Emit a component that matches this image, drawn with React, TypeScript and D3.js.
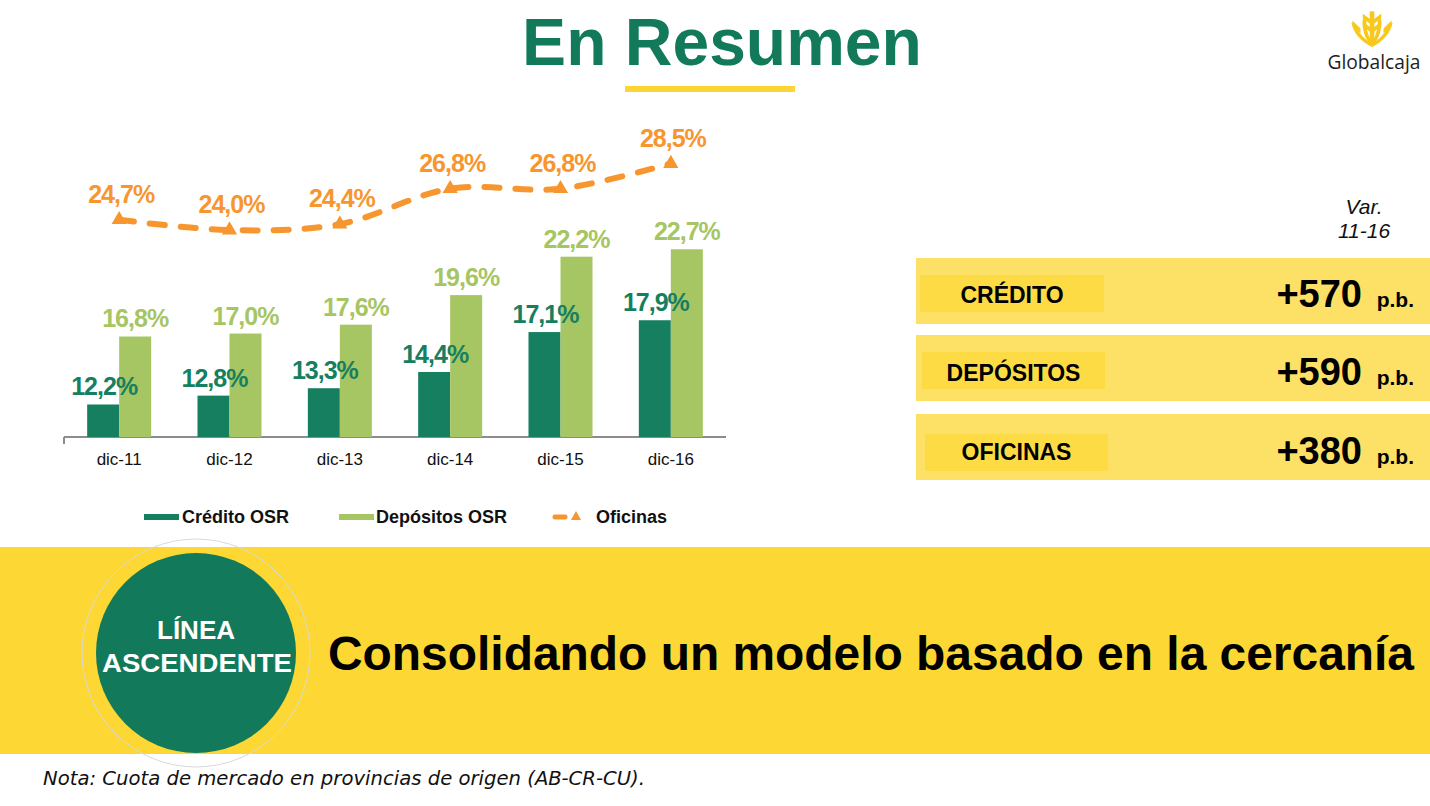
import React from "react";
import * as d3 from "d3";

const categories = ["dic-11", "dic-12", "dic-13", "dic-14", "dic-15", "dic-16"];
const creditoOSR = [12.2, 12.8, 13.3, 14.4, 17.1, 17.9];
const depositosOSR = [16.8, 17.0, 17.6, 19.6, 22.2, 22.7];
const oficinas = [24.7, 24.0, 24.4, 26.8, 26.8, 28.5];
const seriesNames = ["Crédito OSR", "Depósitos OSR", "Oficinas"];
const summaryLabels = ["CRÉDITO", "DEPÓSITOS", "OFICINAS"];
const summaryValues = ["+570", "+590", "+380"];

const GREEN = "#157F60";
const DARK_GREEN = "#127A5B";
const LIGHT_GREEN = "#A6C563";
const ORANGE = "#F7962F";
const FONT = "'Liberation Sans', Arial, Helvetica, sans-serif";

const fmt = (v: number) => v.toFixed(1).replace(".", ",") + "%";

export default function App() {
  const x = d3.scaleBand<string>().domain(categories).range([64, 726]).padding(0);
  const sub = d3
    .scaleBand<string>()
    .domain(["c", "d"])
    .range([0, x.bandwidth()])
    .paddingInner(0)
    .paddingOuter(0.724);
  const y = d3.scaleLinear().domain([10, 30]).range([437, 141.4]);
  const cx = (c: string) => (x(c) as number) + x.bandwidth() / 2;

  const line = d3
    .line<number>()
    .x((_, i) => cx(categories[i]))
    .y((d) => y(d))
    .curve(d3.curveCatmullRom.alpha(0.5));

  const tri = d3.symbol().type(d3.symbolTriangle).size(100)();

  const rows = [
    { top: 258, h: 66, inner: [920, 275, 184, 37], base: 304 },
    { top: 335, h: 66, inner: [922, 352, 183, 37], base: 382 },
    { top: 414, h: 66, inner: [925, 434, 183, 37], base: 461 },
  ];

  const labelProps = {
    fontSize: 25,
    fontWeight: "bold" as const,
    textAnchor: "middle" as const,
    letterSpacing: -1,
  };

  return (
    <svg
      width={1430}
      height={806}
      style={{ position: "fixed", left: 0, top: 0, background: "#fff" }}
      fontFamily={FONT}
    >
      {/* Title */}
      <text x={722} y={65} textAnchor="middle" fontSize={66} fontWeight="bold" fill={DARK_GREEN}>
        En Resumen
      </text>
      <rect x={625} y={86} width={170} height={6} fill="#FCD535" />

      {/* Logo */}
      <g fill="#F8C81C" stroke="none" transform="translate(1372,47) scale(1.15) translate(-1372,-47)">
        <path d="M1372,47 C1362,42 1356,35 1354,26 L1358,27 C1360,35 1365,40 1372,44 Z" />
        <path d="M1372,47 C1382,42 1388,35 1390,26 L1386,27 C1384,35 1379,40 1372,44 Z" />
        <path d="M1372,47 C1366,40 1363,32 1364,22 L1367,24 C1367,32 1369,38 1372,43 Z" />
        <path d="M1372,47 C1378,40 1381,32 1380,22 L1377,24 C1377,32 1375,38 1372,43 Z" />
        <path d="M1370,45 L1370,16 L1374,16 L1374,45 Z" />
        <path d="M1364,18 L1372,24 L1380,18 L1380,22 L1372,28 L1364,22 Z" />
        <path d="M1364,25 L1372,31 L1380,25 L1380,29 L1372,35 L1364,29 Z" />
        <path d="M1355,24 L1362,31 L1362,35 L1355,28 Z" />
        <path d="M1389,24 L1382,31 L1382,35 L1389,28 Z" />
      </g>
      <text x={1374} y={69} textAnchor="middle" fontSize={20} fill="#1e1e1e" fontFamily="'Open Sans', sans-serif" textLength={93} lengthAdjust="spacingAndGlyphs">
        Globalcaja
      </text>

      {/* Axis */}
      <line x1={64} x2={726} y1={437} y2={437} stroke="#8c8c8c" strokeWidth={2} />
      <line x1={64} x2={64} y1={437} y2={444} stroke="#8c8c8c" strokeWidth={2} />
      {categories.map((c) => (
        <text key={c} x={cx(c)} y={465} textAnchor="middle" fontSize={17} fill="#111">
          {c}
        </text>
      ))}

      {/* Bars */}
      {categories.map((c, i) => {
        const x0 = x(c) as number;
        const xc = x0 + (sub("c") as number);
        const xd = x0 + (sub("d") as number);
        const bw = sub.bandwidth();
        return (
          <g key={c}>
            <rect x={xc} y={y(creditoOSR[i])} width={bw} height={437 - y(creditoOSR[i])} fill={GREEN} />
            <rect x={xd} y={y(depositosOSR[i])} width={bw} height={437 - y(depositosOSR[i])} fill={LIGHT_GREEN} />
            <text x={xc + bw / 2 + 1} y={y(creditoOSR[i]) - 9} fill={GREEN} {...labelProps}>
              {fmt(creditoOSR[i])}
            </text>
            <text x={xd + bw / 2} y={y(depositosOSR[i]) - 9} fill={LIGHT_GREEN} {...labelProps}>
              {fmt(depositosOSR[i])}
            </text>
          </g>
        );
      })}

      {/* Oficinas line */}
      <path
        d={line(oficinas) || ""}
        fill="none"
        stroke={ORANGE}
        strokeWidth={6}
        strokeDasharray="15 16"
        strokeLinecap="round"
      />
      {oficinas.map((v, i) => (
        <g key={i}>
          <path d={tri || ""} transform={`translate(${cx(categories[i])},${y(v)})`} fill={ORANGE} />
          <text x={cx(categories[i]) + 2} y={y(v) - 17} fill={ORANGE} {...labelProps}>
            {fmt(v)}
          </text>
        </g>
      ))}

      {/* Legend */}
      <rect x={144} y={514} width={35} height={6} fill={GREEN} />
      <text x={182} y={523} fontSize={18} fontWeight="bold" fill="#111">
        {seriesNames[0]}
      </text>
      <rect x={339} y={514} width={35} height={6} fill={LIGHT_GREEN} />
      <text x={376} y={523} fontSize={18} fontWeight="bold" fill="#111">
        {seriesNames[1]}
      </text>
      <line x1={555} x2={565} y1={517} y2={517} stroke={ORANGE} strokeWidth={5} strokeLinecap="round" />
      <path d={d3.symbol().type(d3.symbolTriangle).size(45)() || ""} transform="translate(576,517)" fill={ORANGE} />
      <text x={596} y={523} fontSize={18} fontWeight="bold" fill="#111">
        {seriesNames[2]}
      </text>

      {/* Summary panel */}
      <text x={1364} y={214} textAnchor="middle" fontSize={21} fontStyle="italic" fill="#111">
        Var.
      </text>
      <text x={1364} y={238} textAnchor="middle" fontSize={21} fontStyle="italic" fill="#111">
        11-16
      </text>
      {rows.map((r, i) => (
        <g key={i}>
          <rect x={916} y={r.top} width={514} height={r.h} fill="#FDE066" />
          <rect x={r.inner[0]} y={r.inner[1]} width={r.inner[2]} height={r.inner[3]} fill="#FDDB45" />
          <text
            x={r.inner[0] + r.inner[2] / 2}
            y={r.base - 1}
            textAnchor="middle"
            fontSize={23}
            fontWeight="bold"
            fill="#000"
          >
            {summaryLabels[i]}
          </text>
          <text x={1362} y={r.base + 3} textAnchor="end" fontSize={38} fontWeight="bold" fill="#000">
            {summaryValues[i]}
          </text>
          <text x={1414} y={r.base + 3} textAnchor="end" fontSize={21} fontWeight="bold" fill="#000">
            p.b.
          </text>
        </g>
      ))}

      {/* Bottom band */}
      <rect x={0} y={547} width={1430} height={207} fill="#FDD733" />
      <circle cx={196} cy={653} r={114} fill="none" stroke="#d9d9d9" strokeWidth={1} />
      <circle cx={196} cy={653} r={100} fill={DARK_GREEN} />
      <text x={196} y={639} textAnchor="middle" fontSize={26} fontWeight="bold" fill="#fff">
        LÍNEA
      </text>
      <text x={197} y={672} textAnchor="middle" fontSize={26} fontWeight="bold" fill="#fff" textLength={190} lengthAdjust="spacingAndGlyphs">
        ASCENDENTE
      </text>
      <text x={328} y={670} fontSize={48} fontWeight="bold" fill="#000" textLength={1086} lengthAdjust="spacingAndGlyphs">
        Consolidando un modelo basado en la cercanía
      </text>

      {/* Note */}
      <text
        x={43}
        y={785}
        fontSize={19}
        fontStyle="italic"
        fill="#111"
        fontFamily="'DejaVu Sans', sans-serif"
        textLength={602}
        lengthAdjust="spacingAndGlyphs"
      >
        Nota: Cuota de mercado en provincias de origen (AB-CR-CU).
      </text>
    </svg>
  );
}
